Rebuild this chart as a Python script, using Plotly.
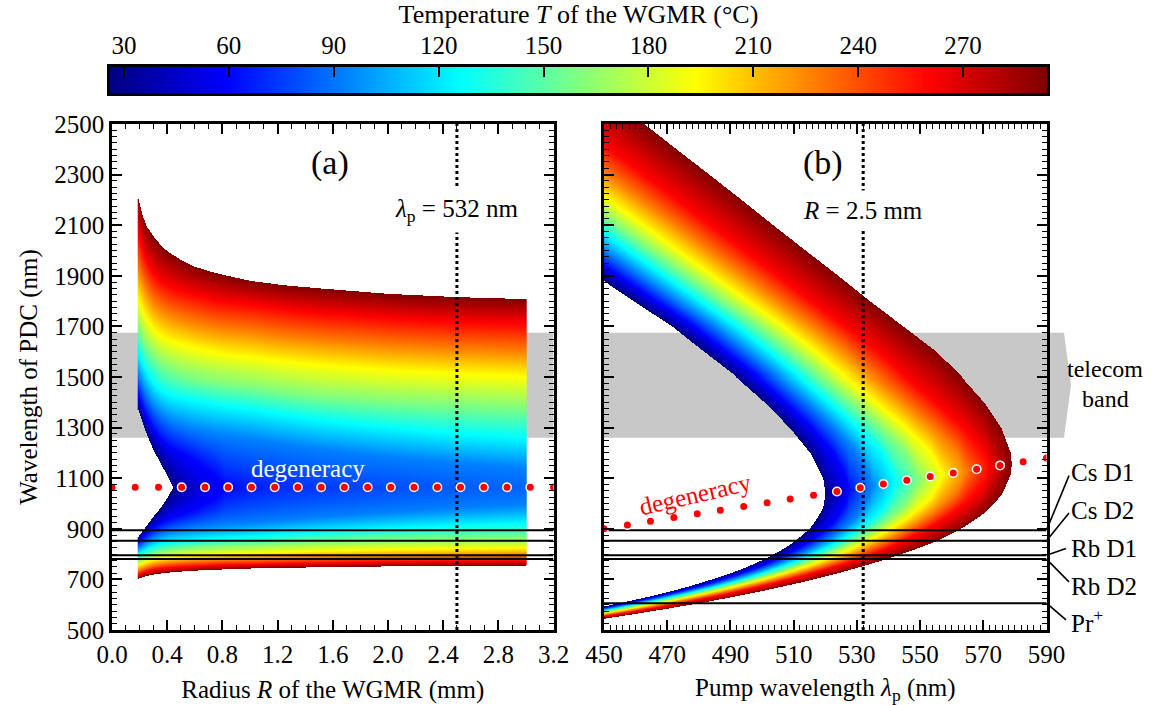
import numpy as np
import plotly.graph_objects as go

FONT = "Liberation Serif, Times New Roman, Times, DejaVu Serif, serif"
W, H = 1162, 705

# ---------------- temperature scale (°C) ----------------
T_MIN, T_MAX = 26, 294
T_LEVELS = [26, 60, 93, 126, 160, 193, 227, 260, 294]
CBAR_TICKS = [30, 60, 90, 120, 150, 180, 210, 240, 270]
JET = [[0.0, "rgb(0,0,128)"], [0.125, "rgb(0,0,255)"], [0.375, "rgb(0,255,255)"],
       [0.625, "rgb(255,255,0)"], [0.875, "rgb(255,0,0)"], [1.0, "rgb(128,0,0)"]]

# ---------------- panel (a): idler wavelength (nm) of each isotherm vs radius R (mm), pump 532 nm
PUMP_A_NM = 532.0
DEG_A_NM = 1064.0
iso_a_R = [0.19, 0.22, 0.25, 0.30, 0.35, 0.40, 0.44, 0.50, 0.60, 0.75, 0.82, 1.00, 1.25, 1.50, 2.00, 2.50, 3.00]
iso_a_T026 = [1372, 1320, 1275, 1210, 1160, 1108, 1064, None, None, None, None, None, None, None, None, None, None]
iso_a_T060 = [1430, 1385, 1345, 1295, 1258, 1232, 1218, 1200, 1170, 1110, 1064, None, None, None, None, None, None]
iso_a_T093 = [1505, 1465, 1430, 1385, 1355, 1335, 1322, 1310, 1292, 1275, 1268, 1255, 1235, 1215, 1185, 1160, 1140]
iso_a_T126 = [1590, 1550, 1518, 1478, 1450, 1432, 1424, 1418, 1405, 1390, 1384, 1372, 1350, 1330, 1300, 1275, 1258]
iso_a_T160 = [1690, 1650, 1620, 1580, 1552, 1535, 1525, 1510, 1495, 1480, 1474, 1463, 1442, 1425, 1403, 1390, 1378]
iso_a_T193 = [1800, 1760, 1725, 1685, 1660, 1645, 1636, 1625, 1610, 1592, 1586, 1575, 1557, 1543, 1523, 1510, 1500]
iso_a_T227 = [1925, 1880, 1840, 1795, 1770, 1752, 1742, 1730, 1713, 1695, 1689, 1680, 1660, 1645, 1625, 1610, 1600]
iso_a_T260 = [2060, 2000, 1955, 1905, 1878, 1860, 1850, 1838, 1822, 1800, 1794, 1785, 1765, 1750, 1730, 1715, 1708]
iso_a_T294 = [2205, 2140, 2095, 2055, 2022, 1996, 1982, 1962, 1935, 1910, 1902, 1880, 1862, 1850, 1828, 1815, 1807]
# temperature at degeneracy along R
deg_a_R = [0.44, 0.50, 0.60, 0.75, 0.82, 1.00, 1.25, 1.50, 2.00, 2.50, 3.00]
deg_a_T = [26, 36, 47, 58, 60, 66, 71, 74, 79, 83, 86]

# ---------------- panel (b): pump wavelength (nm) of each isotherm at idler rows, R = 2.5 mm
rows_b_nm = [1100, 1200, 1300, 1400, 1500, 1600, 1700, 1800, 1900, 2000, 2100, 2200, 2300, 2400, 2500, 2600, 2700]
iso_b_T026 = [519.3, 515.2, 508.7, 500.8, 491.8, 481.4, 471.3, 459.1, 447.3, None, None, None, None, None, None, None, None]
iso_b_T060 = [526.8, 522.7, 515.8, 507.5, 498.6, 488.4, 478.3, 466.2, 454.6, 442.9, None, None, None, None, None, None, None]
iso_b_T093 = [534.3, 530.1, 522.8, 514.2, 505.0, 495.0, 484.8, 473.0, 461.5, 450.0, 438.7, None, None, None, None, None, None]
iso_b_T126 = [541.9, 537.8, 530.1, 521.2, 511.8, 502.0, 491.8, 480.1, 468.8, 457.4, 446.3, None, None, None, None, None, None]
iso_b_T160 = [None, 545.5, 537.5, 528.2, 518.6, 509.0, 498.8, 487.2, 476.1, 464.8, 453.8, 442.6, None, None, None, None, None]
iso_b_T193 = [None, 553.5, 545.3, 535.9, 526.1, 516.7, 506.4, 495.1, 484.1, 473.0, 462.2, 451.1, 440.0, None, None, None, None]
iso_b_T227 = [None, 562.1, 554.3, 545.1, 535.4, 526.3, 515.9, 504.8, 494.1, 483.2, 472.5, 461.7, 450.8, 439.9, None, None, None]
iso_b_T260 = [None, 570.6, 563.8, 554.9, 545.4, 536.6, 526.2, 515.3, 504.8, 494.2, 483.6, 473.1, 462.5, 451.8, 441.1, None, None]
iso_b_T294 = [None, 578.7, 575.7, 570.3, 563.2, 555.0, 544.5, 534.0, 524.0, 513.7, 503.5, 493.5, 483.3, 473.0, 462.8, 452.7, 442.6]
# degeneracy (turning point) of each isotherm
deg_b_pump = [520.0, 527.3, 534.6, 542.0, 549.5, 557.0, 564.5, 572.0, 579.0]
deg_b_nm = [1040.0, 1054.6, 1069.2, 1084.0, 1099.0, 1114.0, 1129.0, 1144.0, 1158.0]
deg_b_T = [26, 60, 93, 126, 160, 193, 227, 260, 294]

# ---------------- markers / reference lines ----------------
dots_a_R = [0.0, 0.168, 0.337, 0.505, 0.674, 0.842, 1.011, 1.179, 1.347, 1.516,
            1.684, 1.853, 2.021, 2.189, 2.358, 2.526, 2.695, 2.863, 3.032, 3.2]
dots_a_nm = [1064] * 20
dots_b_pump = [450.0, 457.4, 464.7, 472.1, 479.5, 486.8, 494.2, 501.6, 508.9, 516.3,
               523.7, 531.1, 538.4, 545.8, 553.2, 560.5, 567.9, 575.3, 582.6, 590.0]
dots_b_nm = [900.0, 914.8, 929.4, 944.2, 959.0, 973.6, 988.4, 1003.2, 1017.8, 1032.6,
             1047.4, 1062.2, 1076.8, 1091.6, 1106.4, 1121.0, 1135.8, 1150.6, 1165.2, 1180.0]
lines_names = ["Cs D1", "Cs D2", "Rb D1", "Rb D2", "Pr<sup>+</sup>"]
lines_nm = [894.6, 852.3, 795.0, 780.2, 606.0]
TELECOM_NM = [1260, 1675]
R_MARK = 2.5
PUMP_MARK = 532.0

R_RANGE = [0, 3.2]
P_RANGE = [450, 590]
L_RANGE = [500, 2500]


def curves_from(xs, table):
    out = {}
    for T, vals in zip(T_LEVELS, table):
        pts = [(x, v) for x, v in zip(xs, vals) if v is not None]
        pts.sort()
        out[T] = (np.array([p[0] for p in pts]), np.array([p[1] for p in pts], float))
    return out


def curves_rows(rows, table, vx, vy):
    out = {}
    for T, vals, px_, py_ in zip(T_LEVELS, table, vx, vy):
        pts = [(v, r) for r, v in zip(rows, vals) if v is not None] + [(px_, py_)]
        pts.sort()
        out[T] = (np.array([p[0] for p in pts]), np.array([p[1] for p in pts], float))
    return out


def build_field(xf, yf, curves, dx, dT, dlam, pump):
    Z = np.full((len(yf), len(xf)), np.nan)
    for j, x in enumerate(xf):
        pts = []
        tdeg = None
        if dx[0] <= x <= dx[-1]:
            tdeg = float(np.interp(x, dx, dT))
            pts.append((float(dlam(x)), tdeg))
        for T in T_LEVELS:
            cx, cy = curves[T]
            if len(cx) and cx[0] <= x <= cx[-1] and (tdeg is None or T > tdeg):
                pts.append((float(np.interp(x, cx, cy)), T))
        pts.sort(key=lambda p: p[1])
        lam, tt = [], []
        for l, t in pts:
            if not lam or l > lam[-1]:
                lam.append(l)
                tt.append(t)
        if len(lam) < 2:
            continue
        lp = pump(x)
        with np.errstate(divide="ignore", invalid="ignore"):
            partner = 1.0 / (1.0 / lp - 1.0 / yf)
        idl = np.where(yf > lp, np.maximum(yf, partner), np.nan)
        col = np.interp(idl, lam, tt)
        bad = np.isnan(idl) | (idl < lam[0]) | (idl > lam[-1])
        col[bad] = np.nan
        Z[:, j] = col
    return np.round(Z, 1)


curves_a = curves_from(iso_a_R, [iso_a_T026, iso_a_T060, iso_a_T093, iso_a_T126, iso_a_T160,
                                 iso_a_T193, iso_a_T227, iso_a_T260, iso_a_T294])
curves_b = curves_rows(rows_b_nm, [iso_b_T026, iso_b_T060, iso_b_T093, iso_b_T126, iso_b_T160,
                                   iso_b_T193, iso_b_T227, iso_b_T260, iso_b_T294], deg_b_pump, deg_b_nm)

yf = np.linspace(L_RANGE[0], L_RANGE[1], 505)
xa = np.linspace(iso_a_R[0], iso_a_R[-1], 390)
xb = np.linspace(P_RANGE[0], P_RANGE[1], 443)
Za = build_field(xa, yf, curves_a, deg_a_R, deg_a_T, lambda x: DEG_A_NM, lambda x: PUMP_A_NM)
Zb = build_field(xb, yf, curves_b, deg_b_pump, deg_b_T,
                 lambda x: np.interp(x, deg_b_pump, deg_b_nm), lambda x: x)

fig = go.Figure()
fig.add_trace(go.Heatmap(x=xa, y=yf, z=Za, colorscale=JET, zmin=T_MIN, zmax=T_MAX,
                         showscale=False, hoverinfo="skip", xaxis="x", yaxis="y"))
fig.add_trace(go.Heatmap(x=xb, y=yf, z=Zb, colorscale=JET, zmin=T_MIN, zmax=T_MAX,
                         showscale=False, hoverinfo="skip", xaxis="x2", yaxis="y2"))
# colour bar as its own axis
cb = np.linspace(T_MIN, T_MAX, 400)
fig.add_trace(go.Heatmap(x=cb, y=[0], z=[cb], colorscale=JET, zmin=T_MIN, zmax=T_MAX,
                         showscale=False, hoverinfo="skip", xaxis="x3", yaxis="y3"))

# atomic lines
for nm in lines_nm[:4]:
    fig.add_trace(go.Scatter(x=R_RANGE, y=[nm, nm], mode="lines", line=dict(color="black", width=2),
                             xaxis="x", yaxis="y", hoverinfo="skip"))
for nm in lines_nm:
    fig.add_trace(go.Scatter(x=P_RANGE, y=[nm, nm], mode="lines", line=dict(color="black", width=2),
                             xaxis="x2", yaxis="y2", hoverinfo="skip"))
# dotted markers
fig.add_trace(go.Scatter(x=[R_MARK, R_MARK], y=L_RANGE, mode="lines",
                         line=dict(color="black", width=3, dash="3px,3px"), xaxis="x", yaxis="y", hoverinfo="skip"))
fig.add_trace(go.Scatter(x=[PUMP_MARK, PUMP_MARK], y=L_RANGE, mode="lines",
                         line=dict(color="black", width=3, dash="3px,3px"), xaxis="x2", yaxis="y2", hoverinfo="skip"))
# degeneracy dots
mk = dict(color="#ff0000", size=8.5, line=dict(color="white", width=1.5))
fig.add_trace(go.Scatter(x=dots_a_R, y=dots_a_nm, mode="markers", marker=mk, xaxis="x", yaxis="y", hoverinfo="skip"))
fig.add_trace(go.Scatter(x=dots_b_pump, y=dots_b_nm, mode="markers", marker=mk, xaxis="x2", yaxis="y2", hoverinfo="skip"))


def px(v):
    return v / W


def py(v):
    return 1 - v / H


XA_DOM = [px(112), px(553.5)]
XB_DOM = [px(604), px(1046.5)]
Y_DOM = [py(630), py(124)]

shapes = [
    dict(type="rect", xref="x", yref="y", x0=R_RANGE[0], x1=R_RANGE[1], y0=TELECOM_NM[0], y1=TELECOM_NM[1],
         fillcolor="#c8c8c8", line=dict(width=0), layer="below"),
    dict(type="path", xref="paper", yref="y2",
         path=f"M {px(604)},{TELECOM_NM[0]} L {px(1064)},{TELECOM_NM[0]} L {px(1071)},{sum(TELECOM_NM)/2} "
              f"L {px(1064)},{TELECOM_NM[1]} L {px(604)},{TELECOM_NM[1]} Z",
         fillcolor="#c8c8c8", line=dict(width=0), layer="below"),
]
label_y = [1124, 974, 824, 671, 537]
end_pts = [(1069, 1110), (1069, 962), (1066, 822), (1069, 690), (1066, 540)]
for nm, (ex, ey) in zip(lines_nm, end_pts):
    shapes.append(dict(type="line", xref="paper", yref="y2", x0=px(1046.5), y0=nm, x1=px(ex), y1=ey,
                       line=dict(color="black", width=1.6)))

ann = []
for name, ly in zip(lines_names, label_y):
    ann.append(dict(text=name, xref="paper", yref="y2", x=px(1069), y=ly, xanchor="left", yanchor="middle",
                    showarrow=False, font=dict(size=25)))
ann += [
    dict(text="telecom", xref="paper", yref="y2", x=px(1105), y=1530, showarrow=False,
         font=dict(size=24), xanchor="center", yanchor="middle", borderpad=0),
    dict(text="band", xref="paper", yref="y2", x=px(1105), y=1413, showarrow=False,
         font=dict(size=24), xanchor="center", yanchor="middle", borderpad=0),
    dict(text="(a)", xref="x", yref="y", x=1.58, y=2344, showarrow=False, font=dict(size=34)),
    dict(text="(b)", xref="x2", yref="y2", x=519.4, y=2344, showarrow=False, font=dict(size=34)),
    dict(text="<i>λ</i><sub>p</sub> = 532 nm", xref="x", yref="y", x=R_MARK, y=2160, showarrow=False,
         font=dict(size=25), bgcolor="white", borderpad=6),
    dict(text="<i>R</i> = 2.5 mm", xref="x2", yref="y2", x=PUMP_MARK, y=2160, showarrow=False,
         font=dict(size=25), bgcolor="white", borderpad=6),
    dict(text="degeneracy", xref="x", yref="y", x=1.42, y=1140, showarrow=False,
         font=dict(size=25, color="white")),
    dict(text="degeneracy", xref="x2", yref="y2", x=478.8, y=1037, showarrow=False, textangle=-13,
         font=dict(size=25, color="#ff0000")),
]

ax_common = dict(showline=True, linewidth=2.5, linecolor="black", mirror="allticks", ticks="inside",
                 ticklen=10, tickwidth=1.5, tickcolor="black", showgrid=False, zeroline=False,
                 tickfont=dict(size=25), automargin=False)

fig.update_layout(
    width=W, height=H, margin=dict(l=0, r=0, t=0, b=0),
    paper_bgcolor="white", plot_bgcolor="rgba(0,0,0,0)", showlegend=False,
    font=dict(family=FONT, color="black", size=25),
    xaxis=dict(domain=XA_DOM, range=R_RANGE, dtick=0.4, tick0=0, tickformat=".1f", anchor="y",
               minor=dict(dtick=0.1, ticklen=5, tickwidth=1.2, ticks="inside", tickcolor="black"),
               title=dict(text="Radius <i>R</i> of the WGMR (mm)", font=dict(size=25), standoff=14), **ax_common),
    yaxis=dict(domain=Y_DOM, range=L_RANGE, dtick=200, tick0=500, anchor="x",
               minor=dict(dtick=25, ticklen=5, tickwidth=1.2, ticks="inside", tickcolor="black"),
               title=dict(text="Wavelength of PDC (nm)", font=dict(size=25), standoff=10), **ax_common),
    xaxis2=dict(domain=XB_DOM, range=P_RANGE, dtick=20, tick0=450, anchor="y2",
                minor=dict(dtick=2, ticklen=5, tickwidth=1.2, ticks="inside", tickcolor="black"),
                title=dict(text="Pump wavelength <i>λ</i><sub>p</sub> (nm)", font=dict(size=25), standoff=14),
                **ax_common),
    yaxis2=dict(domain=Y_DOM, range=L_RANGE, dtick=200, tick0=500, anchor="x2", showticklabels=False,
                minor=dict(dtick=25, ticklen=5, tickwidth=1.2, ticks="inside", tickcolor="black"), **ax_common),
    xaxis3=dict(domain=[px(110), px(1047)], range=[T_MIN, T_MAX], anchor="y3", side="top",
                tickvals=CBAR_TICKS, ticks="inside", ticklen=10, tickwidth=1.5, tickcolor="black",
                showline=True, linewidth=2.5, linecolor="black", mirror=True, showgrid=False, zeroline=False,
                tickfont=dict(size=25), automargin=False,
                title=dict(text="Temperature <i>T</i> of the WGMR (°C)", font=dict(size=26), standoff=8)),
    yaxis3=dict(domain=[py(93), py(67)], range=[-0.5, 0.5], anchor="x3", showticklabels=False, ticks="",
                showline=True, linewidth=2.5, linecolor="black", mirror=True, showgrid=False, zeroline=False),
    shapes=shapes, annotations=ann,
)

fig.write_html("out.html", config={"displayModeBar": False},
               post_script="document.body.style.margin='0px';")
